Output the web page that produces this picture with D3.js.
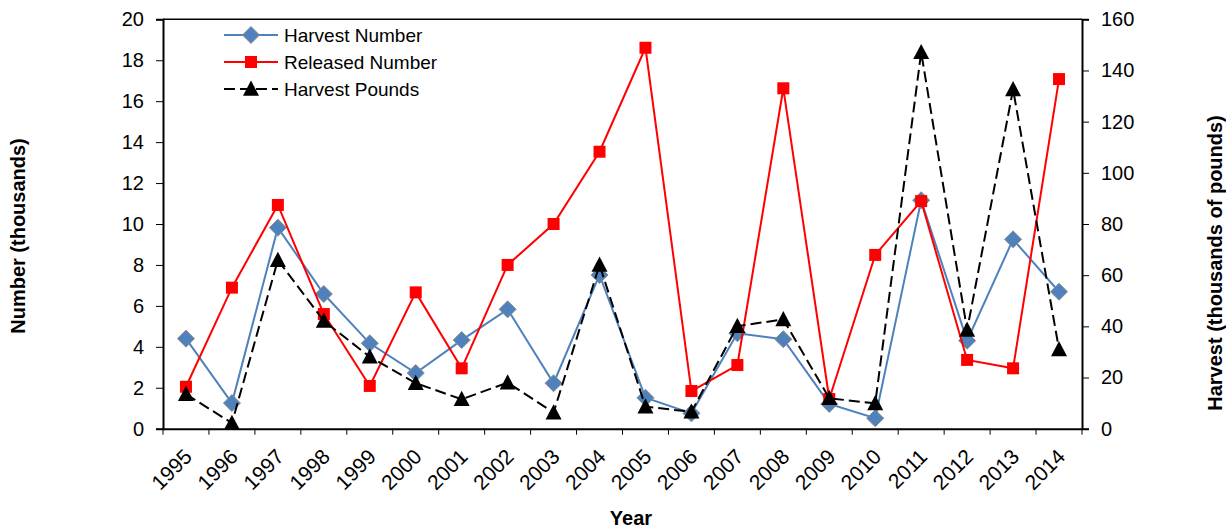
<!DOCTYPE html>
<html>
<head>
<meta charset="utf-8">
<script src="https://cdn.jsdelivr.net/npm/d3@7"></script>
<style>
  html, body { margin: 0; padding: 0; background: #fff; }
  svg { display: block; font-family: "Liberation Sans", Arial, sans-serif; }
</style>
</head>
<body>
<svg id="chart" width="1226" height="529"></svg>
<script>
const years = ["1995","1996","1997","1998","1999","2000","2001","2002","2003","2004","2005","2006","2007","2008","2009","2010","2011","2012","2013","2014"];
const harvestNumber = [4.4, 1.25, 9.82, 6.58, 4.17, 2.72, 4.33, 5.83, 2.22, 7.51, 1.51, 0.75, 4.66, 4.37, 1.21, 0.51, 11.16, 4.3, 9.25, 6.69];
const releasedNumber = [2.05, 6.89, 10.93, 5.6, 2.09, 6.66, 2.95, 8.0, 10.0, 13.53, 18.61, 1.84, 3.11, 16.63, 1.45, 8.49, 11.12, 3.36, 2.95, 17.08];
const harvestPounds = [13.5, 2.2, 65.9, 42.1, 28.1, 17.8, 11.5, 18.0, 6.3, 64.0, 8.6, 6.6, 40.1, 42.7, 11.9, 9.9, 147.1, 38.6, 132.6, 31.0];
const leftTicks = [0, 2, 4, 6, 8, 10, 12, 14, 16, 18, 20];
const rightTicks = [0, 20, 40, 60, 80, 100, 120, 140, 160];
const seriesNames = ["Harvest Number", "Released Number", "Harvest Pounds"];

const svg = d3.select("#chart");
const L = 163, R = 1082, T = 19.3, B = 428.7;
const fs = 20;

const x = d3.scaleBand().domain(years).range([L, R]);
const yL = d3.scaleLinear().domain([0, 20]).range([B, T]);
const yR = d3.scaleLinear().domain([0, 160]).range([B, T]);
const cx = d => x(d) + x.bandwidth() / 2;

// top border
svg.append("line").attr("x1", L).attr("x2", R).attr("y1", T).attr("y2", T)
  .attr("stroke", "#000").attr("stroke-width", 1.5);

// left axis
const gL = svg.append("g").attr("transform", `translate(${L},0)`)
  .call(d3.axisLeft(yL).tickValues(leftTicks).tickSize(7).tickPadding(12));
// right axis
const gR = svg.append("g").attr("transform", `translate(${R},0)`)
  .call(d3.axisRight(yR).tickValues(rightTicks).tickSize(7).tickPadding(12));
// bottom axis
const gB = svg.append("g").attr("transform", `translate(0,${B})`)
  .call(d3.axisBottom(x).tickSize(0).tickFormat(""));
[gL, gR, gB].forEach(g => {
  g.select(".domain").attr("stroke", "#000").attr("stroke-width", 2);
  g.selectAll(".tick line").attr("stroke", "#000").attr("stroke-width", 1);
  g.selectAll(".tick text").attr("font-size", fs).attr("fill", "#000")
    .attr("font-family", "Liberation Sans, Arial, sans-serif");
});
// category boundary ticks on x axis
const bounds = years.map(d => x(d)).concat([R]);
svg.append("g").selectAll("line").data(bounds).join("line")
  .attr("x1", d => d).attr("x2", d => d).attr("y1", B).attr("y2", B + 6)
  .attr("stroke", "#000").attr("stroke-width", 1);
// x labels rotated
svg.append("g").selectAll("text").data(years).join("text")
  .attr("transform", d => `translate(${cx(d) - 3},${B + 19}) rotate(-45)`)
  .attr("text-anchor", "end").attr("dy", "0.7em")
  .attr("font-size", 21).attr("fill", "#000").text(d => d);

// axis titles
svg.append("text").attr("transform", `translate(25,236) rotate(-90)`)
  .attr("text-anchor", "middle").attr("font-size", fs).attr("font-weight", "bold").text("Number (thousands)");
svg.append("text").attr("transform", `translate(1222,263) rotate(-90)`)
  .attr("text-anchor", "middle").attr("font-size", fs).attr("font-weight", "bold").text("Harvest (thousands of pounds)");
svg.append("text").attr("x", 631).attr("y", 525)
  .attr("text-anchor", "middle").attr("font-size", fs).attr("font-weight", "bold").text("Year");

// series
const blue = "#4F81BD", red = "#FF0000";
const lineL = d3.line().x((d, i) => cx(years[i])).y(d => yL(d));
const lineR = d3.line().x((d, i) => cx(years[i])).y(d => yR(d));
const diamond = s => `M0,${-s}L${s},0L0,${s}L${-s},0Z`;
const tri = s => `M0,${-s * 1.05}L${s},${s * 0.85}L${-s},${s * 0.85}Z`;

function drawMarker(g, type, px, py) {
  if (type === 0) g.append("path").attr("d", diamond(8.5)).attr("transform", `translate(${px},${py})`)
    .attr("fill", blue).attr("stroke", "#8C8C8C").attr("stroke-width", 1);
  else if (type === 1) g.append("rect").attr("x", px - 6).attr("y", py - 6).attr("width", 12).attr("height", 12)
    .attr("fill", red);
  else g.append("path").attr("d", tri(8)).attr("transform", `translate(${px},${py})`).attr("fill", "#000");
}

const gS = svg.append("g");
// harvest number
gS.append("path").attr("d", lineL(harvestNumber)).attr("fill", "none").attr("stroke", blue).attr("stroke-width", 2);
harvestNumber.forEach((v, i) => drawMarker(gS, 0, cx(years[i]), yL(v)));
// released
gS.append("path").attr("d", lineL(releasedNumber)).attr("fill", "none").attr("stroke", red).attr("stroke-width", 2);
releasedNumber.forEach((v, i) => drawMarker(gS, 1, cx(years[i]), yL(v)));
// harvest pounds
gS.append("path").attr("d", lineR(harvestPounds)).attr("fill", "none").attr("stroke", "#000").attr("stroke-width", 2)
  .attr("stroke-dasharray", "11,5");
harvestPounds.forEach((v, i) => drawMarker(gS, 2, cx(years[i]), yR(v)));

// legend
const legY = [35, 62, 89];
const lg = svg.append("g");
seriesNames.forEach((name, i) => {
  const y = legY[i];
  const col = i === 0 ? blue : i === 1 ? red : "#000";
  lg.append("line").attr("x1", 224).attr("x2", 278).attr("y1", y).attr("y2", y)
    .attr("stroke", col).attr("stroke-width", 2).attr("stroke-dasharray", i === 2 ? "11,5" : null);
  drawMarker(lg, i, 251, y);
  lg.append("text").attr("x", 284).attr("y", y).attr("dy", "0.35em").attr("font-size", 19).text(name);
});
</script>
</body>
</html>
